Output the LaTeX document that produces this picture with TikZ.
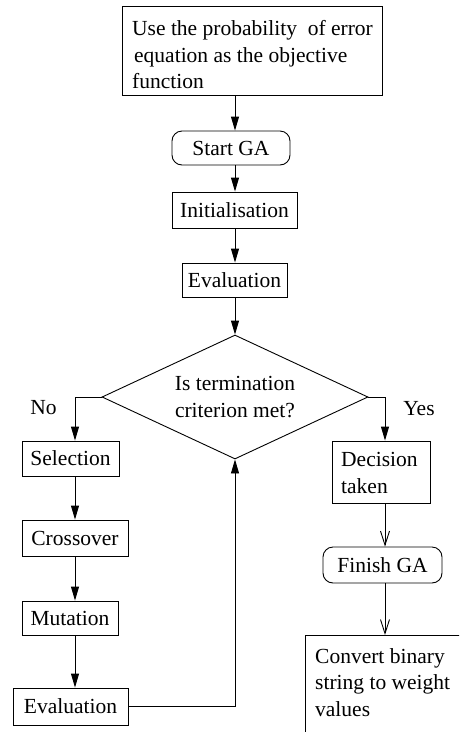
\documentclass[tikz,border=0pt]{standalone}
\usepackage{fontspec}
\setmainfont{Liberation Serif}
\usetikzlibrary{shapes.geometric,arrows.meta}
\begin{document}
\begin{tikzpicture}[x=1pt,y=-1pt,
  every node/.style={font=\fontsize{21.5}{26.3}\selectfont, inner sep=0pt},
  box/.style={draw, line width=0.9pt, rectangle},
  rbox/.style={box, rounded corners=10pt},
  arr/.style={draw, line width=0.9pt, -{Triangle[length=14pt,width=8pt]}},
  barb/.style={draw, line width=0.9pt, -{Straight Barb[length=14pt,width=9pt,line width=0.9pt]}},
  txt/.style={align=left, anchor=north west},
]
\useasboundingbox (0,0) rectangle (459,732);
\clip (0,0) rectangle (459,732);

\node[box, minimum width=260pt, minimum height=89pt] (top) at (252,50.5) {};
\node[txt] (toptxt) at (132,20.4) {Use the probability\ \ of error\\\hspace*{2pt}equation as the objective\\function};
\node[rbox, minimum width=118pt, minimum height=34pt] (start) at (231,148) {Start GA};
\node[box, minimum width=125pt, minimum height=36pt] (init) at (234.5,210) {Initialisation};
\node[box, minimum width=105pt, minimum height=34pt] (ev1) at (234.5,280) {Evaluation};
\node[diamond, draw, line width=0.9pt, aspect=2.145, minimum width=266pt, minimum height=124pt, align=center] (dia) at (235,397) {Is termination\\criterion met?};
\node[anchor=base] (no) at (43.5,414) {No};
\node[anchor=base] (yes) at (419,415) {Yes};

\node[box, minimum width=97pt, minimum height=35pt] (sel) at (70.5,458.5) {Selection};
\node[box, minimum width=106pt, minimum height=36pt] (cro) at (75,538) {Crossover};
\node[box, minimum width=96pt, minimum height=34pt] (mut) at (70,618) {Mutation};
\node[box, minimum width=115pt, minimum height=37pt] (ev2) at (70.5,706.5) {Evaluation};

\node[box, minimum width=98pt, minimum height=62pt] (dec) at (381,472) {};
\node[txt] (dectxt) at (341,452.4) {Decision\\taken};
\node[rbox, minimum width=119pt, minimum height=36pt] (fin) at (382.5,565) {Finish GA};
\node[box, anchor=north west, minimum width=200pt, minimum height=150pt] (conv) at (305,635) {};
\node[txt] (convtxt) at (315,648.4) {Convert binary\\string to weight\\values};

\coordinate (L) at (75,0);
\coordinate (R) at (385,0);
\draw[arr] (top.south -| dia.north) -- (start.north -| dia.north);
\draw[arr] (start.south -| dia.north) -- (init.north -| dia.north);
\draw[arr] (init.south -| dia.north) -- (ev1.north -| dia.north);
\draw[arr] (ev1.south -| dia.north) -- (dia.north);
\draw[arr] (dia.west) -| (sel.north -| L);
\draw[arr] (sel.south -| L) -- (cro.north -| L);
\draw[arr] (cro.south -| L) -- (mut.north -| L);
\draw[arr] (mut.south -| L) -- (ev2.north -| L);
\draw[arr] (ev2.east) -| (dia.south);
\draw[arr] (dia.east) -| (dec.north -| R);
\draw[barb] (dec.south -| R) -- (fin.north -| R);
\draw[barb] (fin.south -| R) -- (conv.north -| R);
\end{tikzpicture}
\end{document}
